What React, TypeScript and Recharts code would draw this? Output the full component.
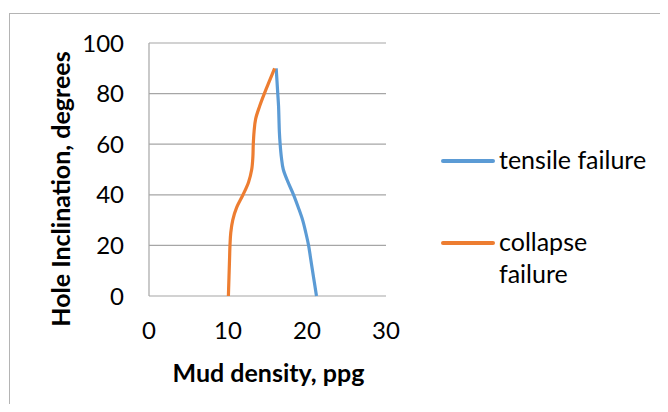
import { LineChart, Line, XAxis, YAxis, CartesianGrid } from 'recharts';

// hole inclination (degrees) at which each mud density was read
const DEGREES = [0, 5, 10, 15, 20, 25, 30, 35, 40, 45, 50, 55, 60, 65, 70, 75, 80, 85, 90];
const TENSILE = [21.2, 20.95, 20.7, 20.45, 20.2, 19.85, 19.45, 18.9, 18.3, 17.6, 17.0, 16.75, 16.6, 16.5, 16.45, 16.4, 16.3, 16.2, 16.1];
const COLLAPSE = [10.05, 10.1, 10.15, 10.2, 10.25, 10.35, 10.6, 11.1, 11.9, 12.6, 13.0, 13.15, 13.2, 13.3, 13.5, 14.0, 14.6, 15.25, 15.9];

const X_TICKS = [0, 10, 20, 30];
const Y_TICKS = [0, 20, 40, 60, 80, 100];

const SERIES = [
  { key: 'tensile', name: 'tensile failure', color: '#5B9BD5' },
  { key: 'collapse', name: 'collapse failure', color: '#ED7D31' },
];

const data = DEGREES.map((deg, i) => ({ deg, tensile: TENSILE[i], collapse: COLLAPSE[i] }));

const FONT = 'Lato, "Liberation Sans", sans-serif';
const GRID = '#a6a6a6';

export default function App() {
  return (
    <div
      style={{
        position: 'relative',
        width: 668,
        height: 412,
        margin: -8,
        overflow: 'hidden',
        background: '#fff',
        fontFamily: FONT,
      }}
    >
      <div
        style={{
          position: 'absolute',
          left: 9,
          top: 13,
          width: 740,
          height: 470,
          borderTop: '1px solid #b4b4b4',
          borderLeft: '1px solid #b4b4b4',
        }}
      />
      <div style={{ position: 'absolute', left: 0, top: 0 }}>
        <LineChart
          width={668}
          height={412}
          data={data}
          layout="vertical"
          margin={{ top: 43, right: 282, bottom: 86, left: 89 }}
        >
          <CartesianGrid vertical={false} stroke={GRID} strokeWidth={1.2} />
          <XAxis
            type="number"
            domain={[0, 30]}
            ticks={X_TICKS}
            axisLine={false}
            tickLine={false}
            tickSize={0}
            tickMargin={26}
            height={30}
            tick={{ fill: '#000', fontSize: 24, fontFamily: FONT }}
          />
          <YAxis
            type="number"
            dataKey="deg"
            domain={[0, 100]}
            ticks={Y_TICKS}
            reversed
            width={60}
            axisLine={{ stroke: GRID, strokeWidth: 1.2 }}
            tickLine={false}
            tickSize={0}
            tickMargin={25}
            tick={{ fill: '#000', fontSize: 24, fontFamily: FONT }}
          />
          {SERIES.map((s) => (
            <Line
              key={s.key}
              type="monotone"
              dataKey={s.key}
              name={s.name}
              stroke={s.color}
              strokeWidth={3.2}
              dot={false}
              isAnimationActive={false}
            />
          ))}
        </LineChart>
      </div>

      <div
        style={{
          position: 'absolute',
          left: 59.6,
          top: 189,
          transform: 'translate(-50%, -50%) rotate(-90deg)',
          whiteSpace: 'nowrap',
          fontWeight: 700,
          fontSize: 25,
          color: '#000',
        }}
      >
        Hole Inclination, degrees
      </div>
      <div
        style={{
          position: 'absolute',
          left: 268.5,
          top: 371.7,
          transform: 'translate(-50%, -50%)',
          whiteSpace: 'nowrap',
          fontWeight: 700,
          fontSize: 25,
          color: '#000',
        }}
      >
        Mud density, ppg
      </div>

      {SERIES.map((s, i) => (
        <div
          key={s.key}
          style={{ position: 'absolute', left: 441, top: i === 0 ? 143 : 224.7, display: 'flex' }}
        >
          <div
            style={{
              width: 54,
              height: 4,
              marginTop: 16,
              background: s.color,
              borderRadius: 2,
              flex: 'none',
            }}
          />
          <div style={{ marginLeft: 4, width: 160, fontSize: 25, lineHeight: '32px', color: '#000' }}>
            {s.name}
          </div>
        </div>
      ))}
    </div>
  );
}
